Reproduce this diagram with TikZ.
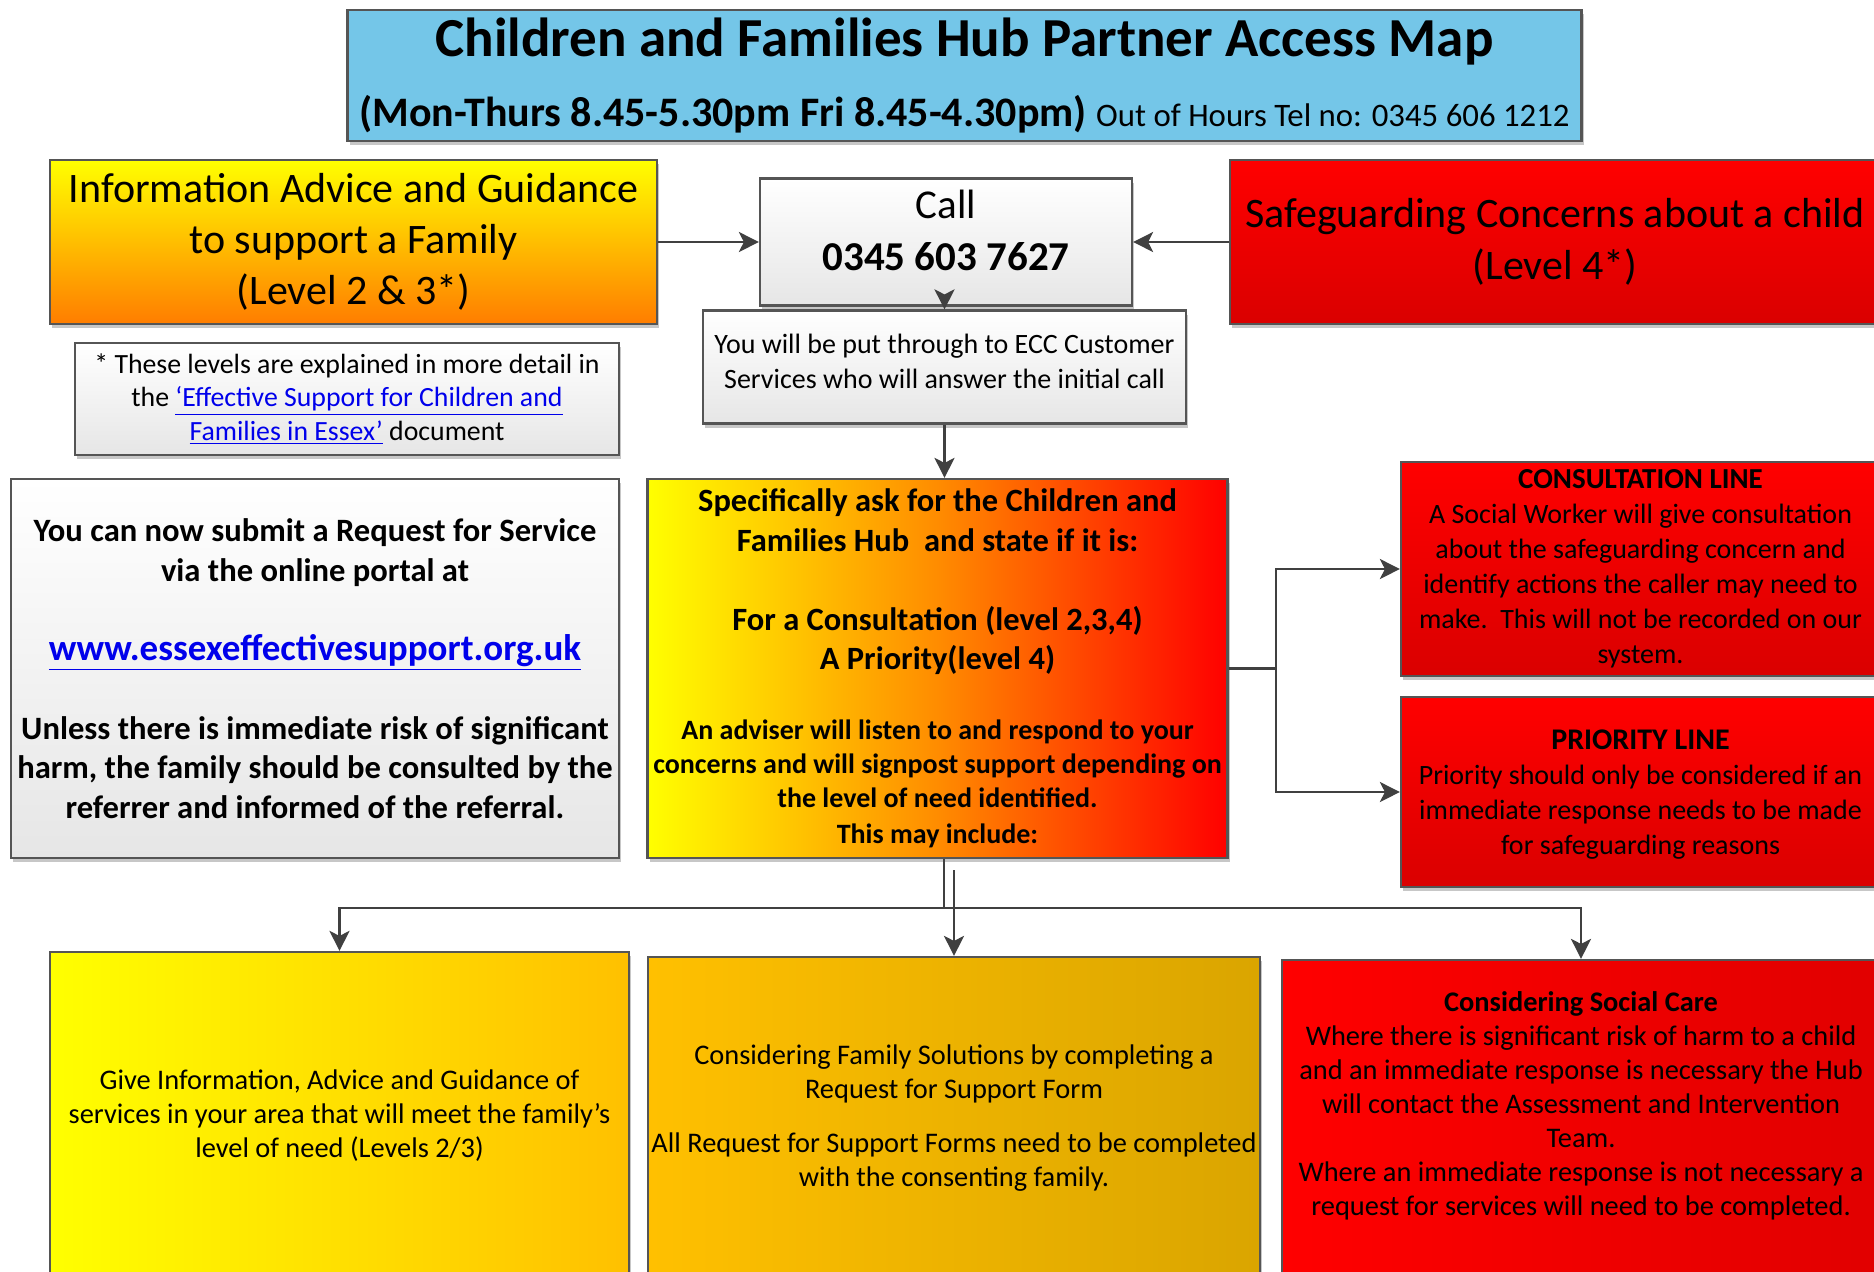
\documentclass[tikz,border=0pt]{standalone}
\usepackage{fontspec}
\setmainfont{Carlito}
\usetikzlibrary{arrows.meta,shadows}
\definecolor{linegray}{RGB}{64,64,64}
\definecolor{bordergray}{RGB}{85,85,85}
\definecolor{titleblue}{RGB}{116,198,232}
\definecolor{orng}{RGB}{255,125,0}
\definecolor{midorange}{RGB}{255,140,0}
\definecolor{gold}{RGB}{255,192,0}
\definecolor{darkgold}{RGB}{218,165,0}
\definecolor{rd}{RGB}{255,0,0}
\definecolor{rddark}{RGB}{218,0,0}
\definecolor{rdright}{RGB}{225,0,0}
\definecolor{lightgray2}{RGB}{230,230,230}
\definecolor{linkblue}{RGB}{0,0,235}
\newcommand{\fsz}[2]{\fontsize{#1pt}{#2pt}\selectfont}
\newcommand{\lnk}[1]{\textcolor{linkblue}{\underline{#1}}}
\newcommand{\sm}{\fsz{14}{17}}
\tikzset{
  box/.style={draw=bordergray, line width=1.1pt, rectangle, align=center, inner sep=0pt,
    drop shadow={shadow xshift=1.2pt, shadow yshift=-2pt, fill=black!22, opacity=1}},
  graybox/.style={box, top color=white, bottom color=lightgray2},
  redbox/.style={box, top color=rd, bottom color=rddark},
  conn/.style={draw=linegray, line width=1.2pt},
  arr/.style={conn, -{Stealth[length=10pt,width=10pt,inset=2.5pt]}},
}
\begin{document}
\begin{tikzpicture}[x=0.5pt,y=-0.5pt]
\useasboundingbox (0,0) rectangle (1874,1271);
\clip (0,0) rectangle (1874,1271);

% title
\node[box, fill=titleblue, minimum width=617pt, minimum height=65.5pt, font=\fsz{21}{35}] (title) at (964.5,75.5)
  {{\fsz{27.5}{30}\bfseries Children and Families Hub Partner Access Map}\\
   {\bfseries (Mon-Thurs 8.45-5.30pm Fri 8.45-4.30pm)} {\fsz{16.4}{30}Out of Hours Tel no: 0345 606 1212}};

% top row
\node[box, top color=yellow, bottom color=orng, minimum width=303.5pt, minimum height=82pt,
  font=\fsz{21}{25.5}] (iag) at (353.5,242)
  {Information Advice and Guidance\\to support a Family\\(Level 2 \& 3*)};
\node[graybox, minimum width=272pt, minimum height=56pt, font=\fsz{13.9}{16.75}] (note) at (347,399)
  {* These levels are explained in more detail in\\the \lnk{‘Effective Support for Children and}\\\lnk{Families in Essex’} document};
\node[graybox, minimum width=186pt, minimum height=63.5pt, font=\fsz{20.5}{26}, text depth=12pt] (call) at (946,242)
  {Call\\{\bfseries 0345 603 7627}};
\node[graybox, minimum width=241.5pt, minimum height=56.5pt, font=\fsz{14}{17.5}, text depth=5.5pt] (ecc) at (944.5,367)
  {You will be put through to ECC Customer\\Services who will answer the initial call};
\node[redbox, minimum width=325pt, minimum height=82pt, font=\fsz{21}{26}] (safe) at (1555,242)
  {Safeguarding Concerns about a child\\(Level 4*)};

% middle row
\node[graybox, minimum width=304pt, minimum height=189.5pt, font=\fsz{16.3}{19.75}\bfseries] (req) at (315,668.5)
  {You can now submit a Request for Service\\via the online portal at\\[19.75pt]
   {\fsz{18.5}{19.75}\lnk{www.essexeffectivesupport.org.uk}}\\[19.75pt]
   Unless there is immediate risk of significant\\harm, the family should be consulted by the\\referrer and informed of the referral.};
\node[box, left color=yellow, right color=rd, middle color=midorange, minimum width=290pt, minimum height=189.5pt,
  font=\fsz{16.25}{19.75}\bfseries] (hub) at (937.5,668.5)
  {Specifically ask for the Children and\\Families Hub\ \ and state if it is:\\[19.75pt]
   For a Consultation (level 2,3,4)\\A Priority(level 4)\\[15.25pt]
   \sm An adviser will listen to and respond to your\\[-2.75pt]
   \sm concerns and will signpost support depending on\\[-2.75pt]
   \sm the level of need identified.\\[-1.75pt]
   \sm This may include:};
\node[redbox, minimum width=239.5pt, minimum height=107pt, font=\fsz{14}{17.5}] (cons) at (1640.5,569)
  {{\bfseries\fsz{14.5}{17.5}CONSULTATION LINE}\\A Social Worker will give consultation\\about the safeguarding concern and\\identify actions the caller may need to\\make.\ \ This will not be recorded on our\\system.};
\node[redbox, minimum width=239.5pt, minimum height=95pt, font=\fsz{14}{17.5}, text depth=-1pt] (prio) at (1640.5,792)
  {{\bfseries\fsz{15}{17.5}PRIORITY LINE}\\Priority should only be considered if an\\immediate response needs to be made\\for safeguarding reasons};

% bottom row
\node[box, left color=yellow, right color=gold, minimum width=289.5pt, minimum height=163.5pt,
  font=\fsz{14.2}{17}] (b1) at (339.5,1115.5)
  {Give Information, Advice and Guidance of\\services in your area that will meet the family’s\\level of need (Levels 2/3)};
\node[box, left color=gold, right color=darkgold, minimum width=306pt, minimum height=161pt,
  font=\fsz{14.2}{17}] (b2) at (954,1118)
  {Considering Family Solutions by completing a\\Request for Support Form\\[10pt]
   All Request for Support Forms need to be completed\\with the consenting family.};
\node[box, left color=rd, right color=rdright, minimum width=299pt, minimum height=159.5pt,
  font=\fsz{14.2}{17}, text depth=15.5pt] (b3) at (1581,1119.5)
  {{\bfseries Considering Social Care}\\Where there is significant risk of harm to a child\\and an immediate response is necessary the Hub\\will contact the Assessment and Intervention\\Team.\\Where an immediate response is not necessary a\\request for services will need to be completed.};

% connectors
\draw[arr] (iag.east) -- (call.west);
\draw[arr] (safe.west) -- (call.east);
\draw[arr] (ecc.north |- call.south) -- (ecc.north);
\draw[arr] (ecc.south) -- (ecc.south |- hub.north);

\coordinate (k) at (1276,668.5);
\draw[conn] (hub.east) -- (k);
\draw[arr] (k) |- (cons.west);
\draw[arr] (k) |- (prio.west);

\coordinate (j) at (944,908);
\coordinate (m0) at (954,870);
\draw[conn] (j |- hub.south) -- (j) -- (m0 |- j);
\draw[arr] (j) -| (b1.north);
\draw[arr] (j) -| (b3.north);
\draw[arr] (m0) -- (b2.north);
\end{tikzpicture}
\end{document}
